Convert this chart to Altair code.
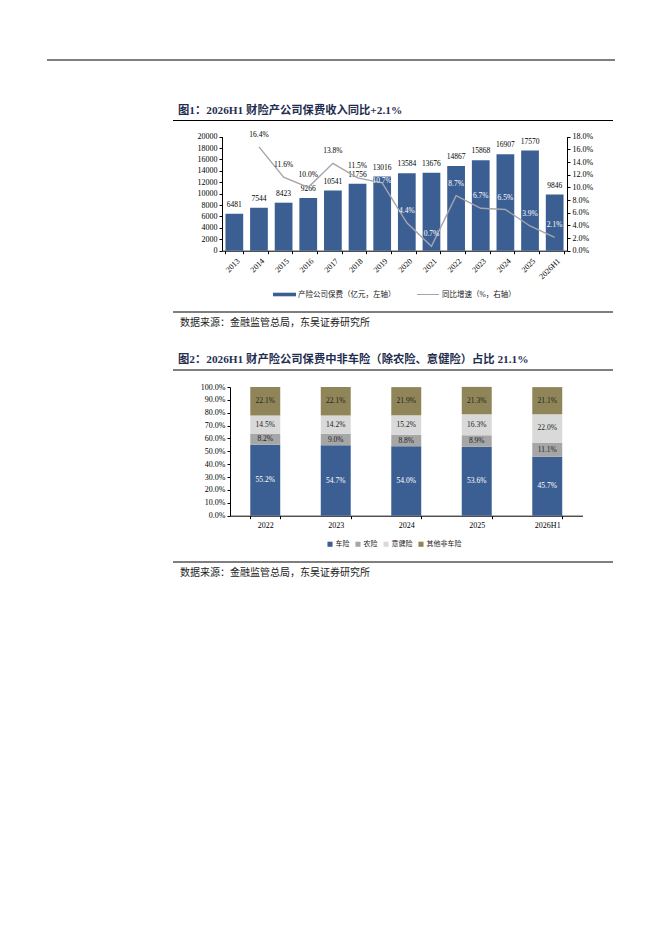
import altair as alt
import pandas as pd

# ---------------- data ----------------
years = ["2013", "2014", "2015", "2016", "2017", "2018", "2019",
         "2020", "2021", "2022", "2023", "2024", "2025", "2026H1"]
premium = [6481, 7544, 8423, 9266, 10541, 11756, 13016,
           13584, 13676, 14867, 15868, 16907, 17570, 9846]
growth_years = years[1:]
growth = [16.4, 11.6, 10.0, 13.8, 11.5, 10.7, 4.4, 0.7, 8.7, 6.7, 6.5, 3.9, 2.1]

mix_years = ["2022", "2023", "2024", "2025", "2026H1"]
lines_of_business = ["车险", "农险", "意健险", "其他非车险"]
auto = [55.2, 54.7, 54.0, 53.6, 45.7]
agri = [8.2, 9.0, 8.8, 8.9, 11.1]
health = [14.5, 14.2, 15.2, 16.3, 22.0]
other = [22.1, 22.1, 21.9, 21.3, 21.1]

title1 = "图1：2026H1 财险产公司保费收入同比+2.1%"
title2 = "图2：2026H1 财产险公司保费中非车险（除农险、意健险）占比 21.1%"
source = "数据来源：金融监管总局，东吴证券研究所"
legend1_bar = "产险公司保费（亿元，左轴）"
legend1_line = "同比增速（%，右轴）"

# ---------------- style ----------------
BLUE = "#3C5F93"
LINE_GRAY = "#A5A5AE"
MIX_COLORS = [BLUE, "#A6A6A6", "#D9D9D9", "#8F8558"]
TITLE_COLOR = "#1F2E50"
FONT = "Liberation Serif, Noto Sans CJK SC"

W, H = 646, 920
M = 8  # page margin


def px(v):
    return v - M


C1_L, C1_R, C1_T, C1_B = px(222), px(567), px(136.7), px(250.7)
C2_L, C2_R, C2_T, C2_B = px(230), px(582.5), px(387), px(515.7)

axis_common = dict(grid=False, domainColor="black", tickColor="black",
                   domainWidth=1, tickWidth=1, tickSize=3, labelFont=FONT,
                   labelFontSize=8, labelColor="black", title=None)

one = pd.DataFrame({"k": [0]})


def hrule(x1, x2, y, w=1.0, color="black"):
    return alt.Chart(one).mark_rule(color=color, strokeWidth=w).encode(
        x=alt.value(px(x1)), x2=alt.value(px(x2)), y=alt.value(px(y)))


def label(text, x, y, size, color="black", weight="normal", align="left"):
    return alt.Chart(one).mark_text(
        align=align, baseline="middle", font=FONT, fontSize=size,
        color=color, fontWeight=weight).encode(
        x=alt.value(px(x)), y=alt.value(px(y)), text=alt.value(text))


# ---------------- chart 1 ----------------
df1 = pd.DataFrame({"year": years, "premium": premium})
dfg = pd.DataFrame({"year": growth_years, "growth": growth})

x1_scale = alt.Scale(domain=years, range=[C1_L, C1_R],
                     paddingInner=0.28, paddingOuter=0.14)
y1_scale = alt.Scale(domain=[0, 20000], range=[C1_B, C1_T], nice=False)
y1r_scale = alt.Scale(domain=[0, 18], range=[C1_B, C1_T], nice=False)

bars1 = alt.Chart(df1).mark_bar(color=BLUE).encode(
    x=alt.X("year:N", sort=years, scale=x1_scale,
            axis=alt.Axis(orient="bottom", offset=-(H - C1_B), tickBand="extent",
                          labelAngle=-45, labelAlign="right", labelBaseline="middle",
                          labelPadding=6, labelOffset=4, **axis_common)),
    y=alt.Y("premium:Q", scale=y1_scale,
            axis=alt.Axis(orient="left", offset=-C1_L, format="d",
                          values=list(range(0, 20001, 2000)), **axis_common)),
)

bar1_text = alt.Chart(df1).mark_text(
    dy=-9, baseline="middle", font=FONT, fontSize=7.5, color="black").encode(
    x=alt.X("year:N", sort=years, scale=x1_scale, axis=None),
    y=alt.Y("premium:Q", scale=y1_scale, axis=None),
    text=alt.Text("premium:Q", format="d"),
)

line1 = alt.Chart(dfg).mark_line(color=LINE_GRAY, strokeWidth=1.4).encode(
    x=alt.X("year:N", sort=years, scale=x1_scale, axis=None),
    y=alt.Y("growth:Q", scale=y1r_scale,
            axis=alt.Axis(orient="right", offset=-(W - C1_R),
                          values=list(range(0, 19, 2)),
                          labelExpr="format(datum.value, '.1f') + '%'",
                          **axis_common)),
)


def growth_labels(test, dy):
    return alt.Chart(dfg).transform_filter(test).transform_calculate(
        lab="format(datum.growth, '.1f') + '%'"
    ).mark_text(dy=dy, baseline="middle", font=FONT, fontSize=7.5).encode(
        x=alt.X("year:N", sort=years, scale=x1_scale, axis=None),
        y=alt.Y("growth:Q", scale=y1r_scale, axis=None),
        text="lab:N",
        color=alt.condition("datum.year >= '2019'", alt.value("white"), alt.value("black")),
    )


line1_text = growth_labels("datum.year != '2019'", -12)
line1_text_2019 = growth_labels("datum.year == '2019'", -2)

# legend of chart 1 (bar swatch + line swatch)
leg_bar = alt.Chart(one).mark_rect(color=BLUE).encode(
    x=alt.value(px(273)), x2=alt.value(px(296)),
    y=alt.value(px(292.7)), y2=alt.value(px(296.3)))
leg_line = hrule(417, 439, 294.5, w=1.0, color=LINE_GRAY)

# ---------------- chart 2 ----------------
rows = []
for i, yr in enumerate(mix_years):
    vals = [auto[i], agri[i], health[i], other[i]]
    base = 0.0
    for j, (name, v) in enumerate(zip(lines_of_business, vals)):
        rows.append({"year": yr, "type": name, "value": v, "ord": j,
                     "mid": base + v / 2})
        base += v
df2 = pd.DataFrame(rows)

x2_scale = alt.Scale(domain=mix_years, range=[C2_L, C2_R],
                     paddingInner=0.575, paddingOuter=0.2875)
y2_scale = alt.Scale(domain=[0, 100], range=[C2_B, C2_T], nice=False)

bars2 = alt.Chart(df2).mark_bar().encode(
    x=alt.X("year:N", sort=mix_years, scale=x2_scale,
            axis=alt.Axis(orient="bottom", offset=-(H - C2_B), tickBand="extent",
                          labelAngle=0, labelPadding=3, **axis_common)),
    y=alt.Y("value:Q", stack="zero", scale=y2_scale,
            axis=alt.Axis(orient="left", offset=-C2_L,
                          values=list(range(0, 101, 10)),
                          labelExpr="format(datum.value, '.1f') + '%'",
                          **axis_common)),
    color=alt.Color("type:N", sort=lines_of_business,
                    scale=alt.Scale(domain=lines_of_business, range=MIX_COLORS),
                    legend=alt.Legend(orient="none", legendX=px(326.5), legendY=px(540.5),
                                      direction="horizontal", title=None,
                                      symbolType="square", symbolSize=26,
                                      symbolStrokeWidth=0, labelFont=FONT,
                                      labelFontSize=7, labelColor="#222",
                                      labelOffset=2, columnPadding=5,
                                      padding=0, offset=0)),
    order=alt.Order("ord:Q"),
)

bars2_text = alt.Chart(df2).transform_calculate(
    lab="format(datum.value, '.1f') + '%'"
).mark_text(baseline="middle", font=FONT, fontSize=7.5).encode(
    x=alt.X("year:N", sort=mix_years, scale=x2_scale, axis=None),
    y=alt.Y("mid:Q", scale=y2_scale, axis=None),
    text="lab:N",
    color=alt.condition("datum.type == '车险'", alt.value("white"), alt.value("#222")),
)

# ---------------- page decorations ----------------
decor = [
    hrule(47, 615, 60, w=1.0),
    label(title1, 178, 110.5, 11.3, color=TITLE_COLOR, weight="bold"),
    hrule(173, 613, 120.5, w=1.2),
    leg_bar,
    label(legend1_bar, 298, 294.5, 7.5, color="#222"),
    leg_line,
    label(legend1_line, 442, 294.5, 7.5, color="#222"),
    hrule(173, 613, 312, w=1.2),
    label(source, 180, 323, 10, color="#222"),
    label(title2, 178, 359.5, 11.3, color=TITLE_COLOR, weight="bold"),
    hrule(173, 613, 370, w=1.2),
    hrule(173, 613, 562, w=1.2),
    label(source, 180, 573, 10, color="#222"),
]

chart = alt.layer(
    bars1, bar1_text, line1, line1_text, line1_text_2019, bars2, bars2_text, *decor
).resolve_scale(
    x="independent", y="independent"
).properties(
    width=W, height=H, padding=0, autosize="none", background="white"
).configure_view(stroke=None)

chart.save("out.html", embed_options={"renderer": "svg", "actions": False})
